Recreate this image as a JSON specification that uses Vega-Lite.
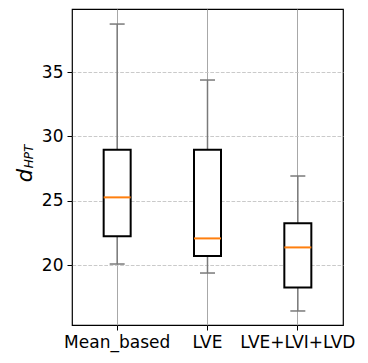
{
  "$schema": "https://vega.github.io/schema/vega-lite/v6.json",
  "width": 271,
  "height": 316,
  "autosize": {"type": "none"},
  "padding": {"left": 72, "top": 9, "right": 25, "bottom": 38},
  "background": "white",
  "config": {
    "view": {"stroke": "black", "strokeWidth": 1.2},
    "font": "DejaVu Sans",
    "axis": {
      "labelFont": "DejaVu Sans",
      "labelFontSize": 17,
      "labelColor": "black",
      "tickColor": "black",
      "tickSize": 5,
      "tickWidth": 1,
      "domain": false
    }
  },
  "data": {
    "values": [
      {"method": "Mean_based", "low": 20.08, "q1": 22.23, "median": 25.26, "q3": 28.97, "high": 38.73},
      {"method": "LVE", "low": 19.38, "q1": 20.7, "median": 22.07, "q3": 28.97, "high": 34.38},
      {"method": "LVE+LVI+LVD", "low": 16.43, "q1": 18.26, "median": 21.37, "q3": 23.24, "high": 26.92}
    ]
  },
  "encoding": {
    "x": {
      "field": "method",
      "type": "nominal",
      "sort": null,
      "scale": {"paddingInner": 0, "paddingOuter": 0},
      "axis": {
        "title": null,
        "labelAngle": 0,
        "labelPadding": 4,
        "bandPosition": 0.5,
        "grid": true,
        "gridColor": "#a8a8a8",
        "gridWidth": 1
      }
    }
  },
  "layer": [
    {
      "mark": {"type": "rule", "color": "#7a7a7a", "strokeWidth": 1.5},
      "encoding": {
        "y": {
          "field": "low",
          "type": "quantitative",
          "scale": {"domain": [15.34, 39.9], "nice": false, "zero": false},
          "axis": {
            "title": "d",
            "titleFont": "DejaVu Sans",
            "titleFontStyle": "italic",
            "titleFontWeight": "normal",
            "titleFontSize": 21,
            "titleColor": "black",
            "titleAngle": -90,
            "titleAlign": "center",
            "titleBaseline": "alphabetic",
            "titleX": -41,
            "titleY": 166,
            "values": [20, 25, 30, 35],
            "labelPadding": 4,
            "grid": true,
            "gridColor": "#c4c4c4",
            "gridWidth": 0.9,
            "gridDash": [3.7, 1.6]
          }
        },
        "y2": {"field": "q1"}
      }
    },
    {
      "mark": {"type": "rule", "color": "#7a7a7a", "strokeWidth": 1.5},
      "encoding": {
        "y": {"field": "q3", "type": "quantitative", "axis": null},
        "y2": {"field": "high"}
      }
    },
    {
      "mark": {"type": "tick", "color": "#7a7a7a", "thickness": 1.5, "size": 15, "opacity": 1},
      "encoding": {"y": {"field": "low", "type": "quantitative", "axis": null}}
    },
    {
      "mark": {"type": "tick", "color": "#7a7a7a", "thickness": 1.5, "size": 15, "opacity": 1},
      "encoding": {"y": {"field": "high", "type": "quantitative", "axis": null}}
    },
    {
      "mark": {"type": "bar", "fill": "white", "stroke": "black", "strokeWidth": 2, "width": 27},
      "encoding": {
        "y": {"field": "q1", "type": "quantitative", "axis": null},
        "y2": {"field": "q3"}
      }
    },
    {
      "mark": {"type": "tick", "color": "#ff7f0e", "thickness": 2, "size": 27, "opacity": 1},
      "encoding": {
        "y": {
          "field": "median",
          "type": "quantitative",
          "axis": {
            "orient": "left",
            "title": "HPT",
            "titleFont": "DejaVu Sans",
            "titleFontStyle": "italic",
            "titleFontWeight": "normal",
            "titleFontSize": 12,
            "titleColor": "black",
            "titleAngle": -90,
            "titleAlign": "center",
            "titleBaseline": "alphabetic",
            "titleX": -40,
            "titleY": 147,
            "labels": false,
            "ticks": false,
            "grid": false,
            "domain": false
          }
        }
      }
    }
  ],
  "resolve": {"axis": {"y": "independent"}}
}
